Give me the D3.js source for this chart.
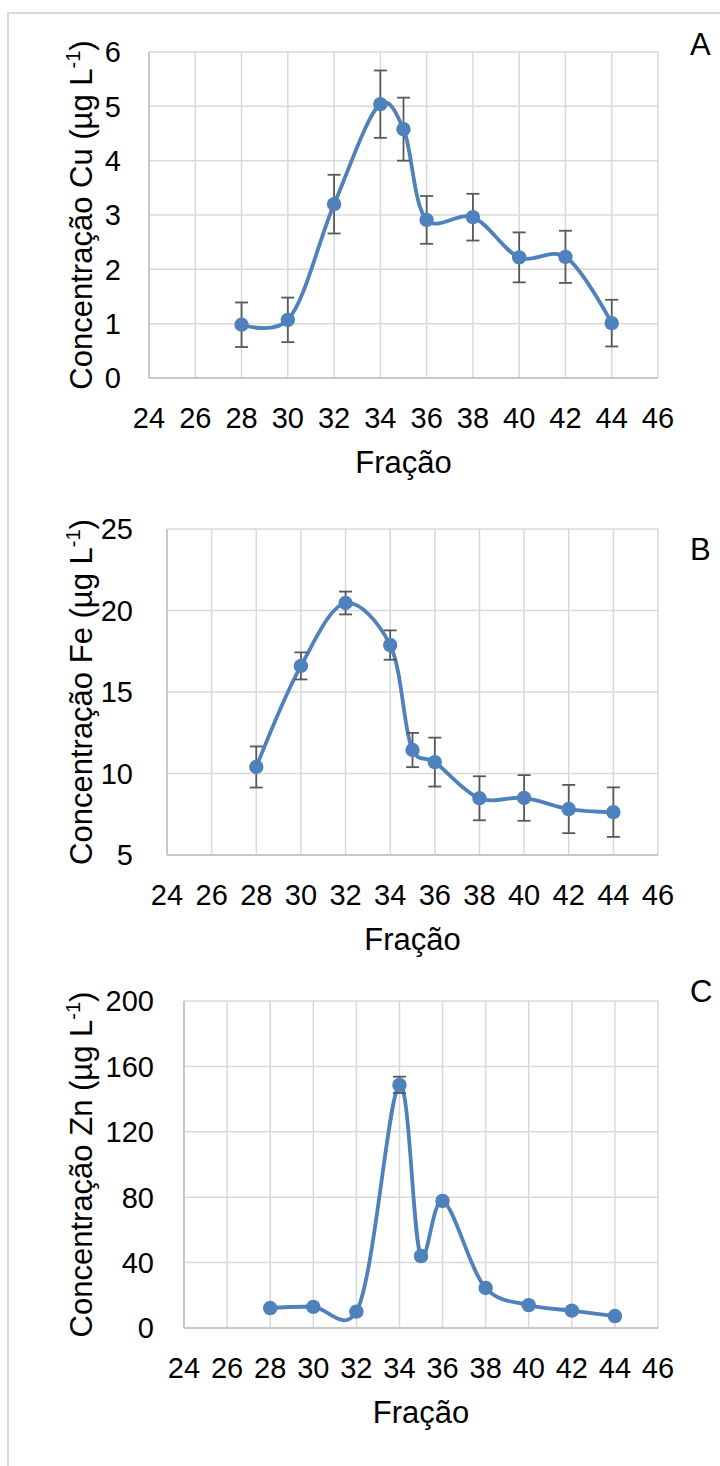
<!DOCTYPE html>
<html>
<head>
<meta charset="utf-8">
<script src="https://cdn.jsdelivr.net/npm/d3@7"></script>
<style>
  html, body { margin: 0; padding: 0; background: #fff; }
  svg { display: block; }
  text { font-family: "Liberation Sans", Arial, sans-serif; fill: #000; }
</style>
</head>
<body>
<svg id="chart" width="720" height="1466"></svg>
<script>
// ---- data ----
const fractions = [28, 30, 32, 34, 35, 36, 38, 40, 42, 44];
const xTicks = [24, 26, 28, 30, 32, 34, 36, 38, 40, 42, 44, 46];

const cuValues = [0.98, 1.07, 3.20, 5.04, 4.58, 2.91, 2.96, 2.22, 2.23, 1.01];
const cuErrors = [0.41, 0.41, 0.54, 0.62, 0.58, 0.44, 0.43, 0.46, 0.48, 0.43];
const cuTicks = [0, 1, 2, 3, 4, 5, 6];

const feValues = [10.4, 16.6, 20.46, 17.88, 11.44, 10.7, 8.48, 8.5, 7.82, 7.63];
const feErrors = [1.26, 0.83, 0.70, 0.90, 1.05, 1.5, 1.35, 1.4, 1.48, 1.52];
const feTicks = [5, 10, 15, 20, 25];

const znValues = [12.2, 12.9, 10.0, 148.7, 44.0, 77.7, 24.5, 14.0, 10.6, 7.3];
const znErrors = [1, 1, 1, 5, 1.5, 1.5, 1, 1, 1, 1];
const znTicks = [0, 40, 80, 120, 160, 200];

const xTitle = "Fração";
const panelLetters = ["A", "B", "C"];
const elements = ["Cu", "Fe", "Zn"];

// ---- layout ----
const panels = [
  { values: cuValues, errors: cuErrors, ticks: cuTicks, el: elements[0], letter: panelLetters[0],
    left: 149, right: 658, top: 52, bottom: 378, labelRight: 121, letterY: 55 },
  { values: feValues, errors: feErrors, ticks: feTicks, el: elements[1], letter: panelLetters[1],
    left: 167, right: 658, top: 529, bottom: 855, labelRight: 133, letterY: 560 },
  { values: znValues, errors: znErrors, ticks: znTicks, el: elements[2], letter: panelLetters[2],
    left: 184, right: 658, top: 1001, bottom: 1328, labelRight: 154, letterY: 1002 }
];

const svg = d3.select("#chart");
const blue = "#4F81BD";
const gridColor = "#D9D9D9";

// outer frame
svg.append("rect")
  .attr("x", 8).attr("y", 13).attr("width", 800).attr("height", 1600)
  .attr("fill", "none").attr("stroke", "#D9D9D9").attr("stroke-width", 2);

panels.forEach(p => {
  const x = d3.scaleLinear().domain([xTicks[0], xTicks[xTicks.length - 1]]).range([p.left, p.right]);
  const y = d3.scaleLinear().domain([p.ticks[0], p.ticks[p.ticks.length - 1]]).range([p.bottom, p.top]);
  const g = svg.append("g");

  // vertical grid
  g.append("g").selectAll("line").data(xTicks).join("line")
    .attr("x1", d => x(d)).attr("x2", d => x(d))
    .attr("y1", p.top).attr("y2", p.bottom)
    .attr("stroke", gridColor).attr("stroke-width", 1.5);
  // horizontal grid
  g.append("g").selectAll("line").data(p.ticks).join("line")
    .attr("x1", p.left).attr("x2", p.right)
    .attr("y1", d => y(d)).attr("y2", d => y(d))
    .attr("stroke", gridColor).attr("stroke-width", 1.5);
  // axes
  g.append("line").attr("x1", p.left).attr("x2", p.left).attr("y1", p.top).attr("y2", p.bottom)
    .attr("stroke", "#BFBFBF").attr("stroke-width", 1.5);
  g.append("line").attr("x1", p.left).attr("x2", p.right).attr("y1", p.bottom).attr("y2", p.bottom)
    .attr("stroke", "#BFBFBF").attr("stroke-width", 1.5);

  // y tick labels
  g.append("g").selectAll("text").data(p.ticks).join("text")
    .attr("x", p.labelRight).attr("y", d => y(d)).attr("dy", "0.36em")
    .attr("text-anchor", "end").attr("font-size", 29).text(d => d);
  // x tick labels
  g.append("g").selectAll("text").data(xTicks).join("text")
    .attr("x", d => x(d)).attr("y", p.bottom + 50)
    .attr("text-anchor", "middle").attr("font-size", 29).text(d => d);
  // x title
  g.append("text").attr("x", (p.left + p.right) / 2).attr("y", p.bottom + 95)
    .attr("text-anchor", "middle").attr("font-size", 31).text(xTitle);
  // y title
  const yt = g.append("text")
    .attr("transform", `translate(92,${(p.top + p.bottom) / 2}) rotate(-90)`)
    .attr("text-anchor", "middle").attr("font-size", 31);
  yt.append("tspan").text(`Concentração ${p.el} (µg L`);
  yt.append("tspan").attr("font-size", 20).attr("dy", -12).text("-1");
  yt.append("tspan").attr("dy", 12).text(")");
  // panel letter
  g.append("text").attr("x", 690).attr("y", p.letterY).attr("font-size", 31).text(p.letter);

  const pts = fractions.map((f, i) => ({ f, v: p.values[i], e: p.errors[i] }));

  // line
  const line = d3.line().x(d => x(d.f)).y(d => y(d.v)).curve(d3.curveCatmullRom.alpha(0.2));
  g.append("path").datum(pts).attr("d", line)
    .attr("fill", "none").attr("stroke", blue).attr("stroke-width", 3.8);

  // error bars
  const eb = g.append("g").attr("stroke", "#595959").attr("stroke-width", 1.8);
  eb.selectAll("line.v").data(pts).join("line").attr("class", "v")
    .attr("x1", d => x(d.f)).attr("x2", d => x(d.f))
    .attr("y1", d => y(d.v - d.e)).attr("y2", d => y(d.v + d.e));
  eb.selectAll("line.t").data(pts).join("line").attr("class", "t")
    .attr("x1", d => x(d.f) - 6.5).attr("x2", d => x(d.f) + 6.5)
    .attr("y1", d => y(d.v + d.e)).attr("y2", d => y(d.v + d.e));
  eb.selectAll("line.b").data(pts).join("line").attr("class", "b")
    .attr("x1", d => x(d.f) - 6.5).attr("x2", d => x(d.f) + 6.5)
    .attr("y1", d => y(d.v - d.e)).attr("y2", d => y(d.v - d.e));

  // markers
  g.append("g").selectAll("circle").data(pts).join("circle")
    .attr("cx", d => x(d.f)).attr("cy", d => y(d.v)).attr("r", 7.2)
    .attr("fill", blue);
});
</script>
</body>
</html>
